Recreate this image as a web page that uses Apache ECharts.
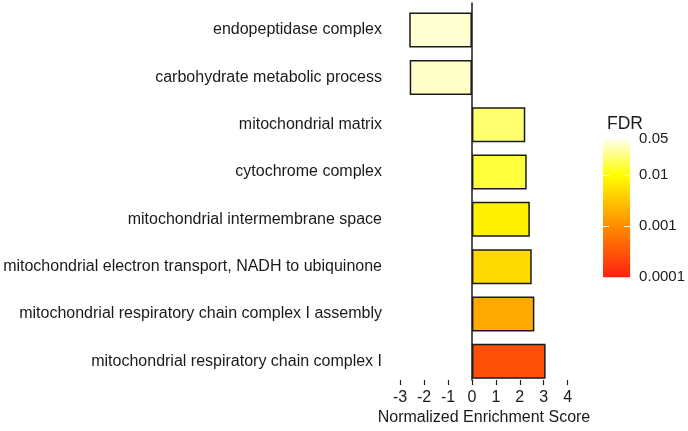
<!DOCTYPE html>
<html>
<head>
<meta charset="utf-8">
<script src="https://cdn.jsdelivr.net/npm/echarts@6/dist/echarts.min.js"></script>
<style>
  html, body { margin: 0; padding: 0; background: #fff; }
  #chart { width: 688px; height: 431px; }
</style>
</head>
<body>
<div id="chart"></div>
<script>
const CATEGORIES = [
  'endopeptidase complex',
  'carbohydrate metabolic process',
  'mitochondrial matrix',
  'cytochrome complex',
  'mitochondrial intermembrane space',
  'mitochondrial electron transport, NADH to ubiquinone',
  'mitochondrial respiratory chain complex I assembly',
  'mitochondrial respiratory chain complex I'
];
const NES = [-2.62, -2.6, 2.23, 2.29, 2.42, 2.5, 2.61, 3.08];
const FDR = [0.04, 0.038, 0.021, 0.015, 0.0075, 0.0046, 0.0018, 0.00028];

const X_TICKS = [-3, -2, -1, 0, 1, 2, 3, 4];
const FDR_TICKS = [0.0001, 0.001, 0.01, 0.05];
const FDR_TICK_LABELS = ['0.0001', '0.001', '0.01', '0.05'];

// colour scale in log10(FDR) space
const SCALE_POS = [-4, -3, -2, Math.log10(0.05)];
const SCALE_COL = ['#ff2010', '#ff8c00', '#ffff00', '#fffff0'];

const FONT = "'Liberation Sans', Arial, sans-serif";
const TXT = '#1a1a1a';
const X_MIN = -3.34, X_MAX = 4.35;

function hexRgb(h) {
  return [1, 3, 5].map(i => parseInt(h.slice(i, i + 2), 16));
}
function fdrColor(f) {
  const l = Math.max(SCALE_POS[0], Math.min(SCALE_POS[3], Math.log10(f)));
  let i = 0;
  while (i < SCALE_POS.length - 2 && l > SCALE_POS[i + 1]) i++;
  const t = (l - SCALE_POS[i]) / (SCALE_POS[i + 1] - SCALE_POS[i]);
  const a = hexRgb(SCALE_COL[i]), b = hexRgb(SCALE_COL[i + 1]);
  const c = a.map((v, k) => Math.round(v + (b[k] - v) * t));
  return 'rgb(' + c.join(',') + ')';
}

// legend axis: decades above 0.0001
const LEG_MAX = Math.log10(0.05) - SCALE_POS[0];
const legPos = FDR_TICKS.map(v => Math.log10(v) - SCALE_POS[0]);
const legStops = SCALE_POS.map((p, i) => ({
  offset: 1 - (p - SCALE_POS[0]) / LEG_MAX,
  color: SCALE_COL[i]
})).sort((a, b) => a.offset - b.offset);

const chart = echarts.init(document.getElementById('chart'));
chart.setOption({
  animation: false,
  textStyle: { fontFamily: FONT },
  title: {
    text: 'FDR', left: 602, top: 110,
    textStyle: { fontFamily: FONT, fontSize: 17.5, fontWeight: 'normal', color: TXT }
  },
  grid: [
    { left: 392, right: 112, top: 6.4, bottom: 46 },
    { left: 392, right: 112, top: 3, bottom: 42 },
    { left: 603, width: 28.3, top: 139, height: 138.3 }
  ],
  xAxis: [
    { type: 'value', gridIndex: 0, min: X_MIN, max: X_MAX, show: false },
    {
      type: 'value', gridIndex: 1, min: X_MIN, max: X_MAX,
      name: 'Normalized Enrichment Score', nameLocation: 'middle', nameGap: 21,
      nameTextStyle: { fontFamily: FONT, fontSize: 16, color: TXT },
      axisLine: { onZero: false, lineStyle: { color: TXT, width: 1.5 } },
      axisTick: { show: true, length: 5, customValues: X_TICKS, lineStyle: { color: TXT, width: 1.2 } },
      axisLabel: { customValues: X_TICKS, margin: 9, fontSize: 16, color: TXT, fontFamily: FONT },
      splitLine: { show: false }
    },
    { type: 'category', gridIndex: 2, data: ['FDR'], show: false }
  ],
  yAxis: [
    {
      type: 'category', gridIndex: 0, data: CATEGORIES, inverse: true,
      axisLine: { show: false, onZero: false },
      axisTick: { show: false },
      axisLabel: { margin: 10, fontSize: 16, color: TXT, fontFamily: FONT, padding: [3, 0, 0, 0] }
    },
    {
      type: 'category', gridIndex: 1, data: CATEGORIES, inverse: true,
      axisLine: { show: true, onZero: true, lineStyle: { color: TXT, width: 1.5 } },
      axisTick: { show: false }, axisLabel: { show: false }
    },
    {
      type: 'value', gridIndex: 2, position: 'right', min: 0, max: LEG_MAX, z: 5,
      axisLine: { show: false },
      axisTick: { show: true, inside: true, length: 6, customValues: legPos.slice(1, 3),
                  lineStyle: { color: '#ffffff', width: 1 } },
      axisLabel: {
        customValues: legPos, margin: 9, fontSize: 15, color: TXT, fontFamily: FONT,
        formatter: v => FDR_TICK_LABELS[legPos.findIndex(p => Math.abs(p - v) < 1e-6)] || ''
      },
      splitLine: { show: false }
    },
    {
      type: 'value', gridIndex: 2, position: 'left', min: 0, max: LEG_MAX, z: 5,
      axisLine: { show: false },
      axisTick: { show: true, inside: true, length: 6, customValues: legPos.slice(1, 3),
                  lineStyle: { color: '#ffffff', width: 1 } },
      axisLabel: { show: false },
      splitLine: { show: false }
    }
  ],
  series: [
    {
      type: 'bar', xAxisIndex: 0, yAxisIndex: 0, barWidth: 35,
      data: NES.map((v, i) => ({
        value: v,
        itemStyle: { color: fdrColor(FDR[i]), borderColor: TXT, borderWidth: 1.5 }
      }))
    },
    {
      type: 'bar', xAxisIndex: 2, yAxisIndex: 2, barWidth: '100%', silent: true,
      data: [LEG_MAX],
      itemStyle: { color: { type: 'linear', x: 0, y: 0, x2: 0, y2: 1, colorStops: legStops } }
    }
  ]
});
</script>
</body>
</html>
